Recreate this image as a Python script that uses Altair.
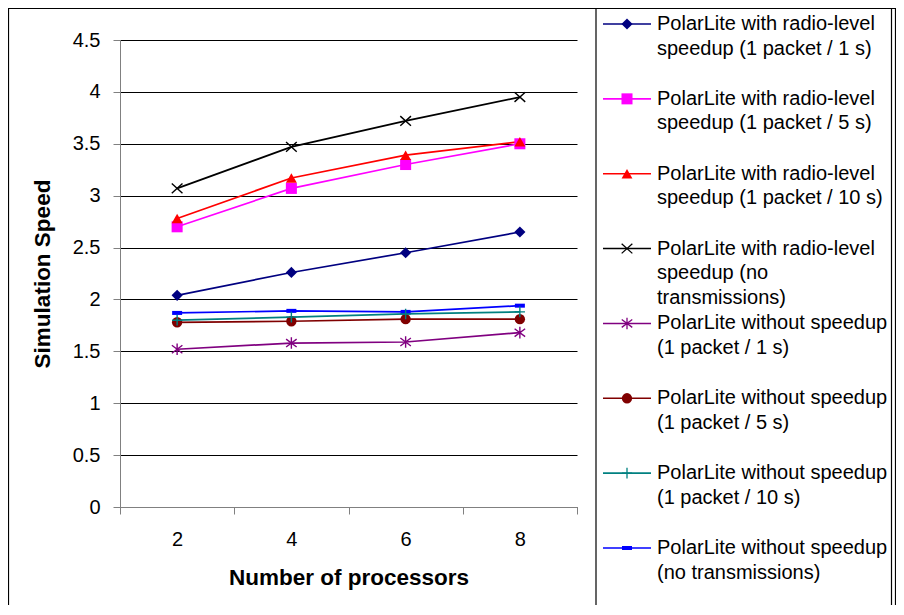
import altair as alt
import pandas as pd

# ---------------- data ----------------
processors = ["2", "4", "6", "8"]
y_ticks = [0, 0.5, 1, 1.5, 2, 2.5, 3, 3.5, 4, 4.5]

series_names = [
    "PolarLite with radio-level\nspeedup (1 packet / 1 s)",
    "PolarLite with radio-level\nspeedup (1 packet / 5 s)",
    "PolarLite with radio-level\nspeedup (1 packet / 10 s)",
    "PolarLite with radio-level\nspeedup (no\ntransmissions)",
    "PolarLite without speedup\n(1 packet / 1 s)",
    "PolarLite without speedup\n(1 packet / 5 s)",
    "PolarLite without speedup\n(1 packet / 10 s)",
    "PolarLite without speedup\n(no transmissions)",
]
series_colors = ["#000080", "#FF00FF", "#FF0000", "#000000",
                 "#800080", "#800000", "#008080", "#0000FF"]

radio_1s = [2.04, 2.26, 2.45, 2.65]
radio_5s = [2.70, 3.07, 3.30, 3.50]
radio_10s = [2.78, 3.17, 3.39, 3.52]
radio_none = [3.07, 3.47, 3.72, 3.95]
plain_1s = [1.52, 1.58, 1.59, 1.68]
plain_5s = [1.78, 1.79, 1.81, 1.81]
plain_10s = [1.80, 1.83, 1.86, 1.88]
plain_none = [1.87, 1.89, 1.88, 1.94]
all_series = [radio_1s, radio_5s, radio_10s, radio_none,
              plain_1s, plain_5s, plain_10s, plain_none]

# marker shapes (Vega symbol names / unit-square paths)
series_shapes = [
    "diamond",
    "square",
    "triangle-up",
    "M-1,-0.9L1,0.9M-1,0.9L1,-0.9",
    "M-1,-0.75L1,0.75M-1,0.75L1,-0.75M0,-1.1L0,1.1",
    "circle",
    "M-1,0L1,0M0,-1.05L0,1.05",
    "M-1,-0.4L1,-0.4L1,0.4L-1,0.4Z",
]
series_sizes = [125, 100, 160, 150, 150, 120, 150, 70]
filled_flags = [True, True, True, False, False, True, False, True]

rows = []
for name, vals in zip(series_names, all_series):
    for p, v in zip(processors, vals):
        rows.append({"series": name, "proc": p, "speed": v})
df = pd.DataFrame(rows)

filled_names = [n for n, f in zip(series_names, filled_flags) if f]
stroked_names = [n for n, f in zip(series_names, filled_flags) if not f]

legend_df = pd.DataFrame({"series": series_names, "idx": list(range(len(series_names)))})
dummy = pd.DataFrame({"a": [0]})

FONT = "Liberation Sans, Arial, Helvetica, sans-serif"

color_scale = alt.Scale(domain=series_names, range=series_colors)
shape_scale = alt.Scale(domain=series_names, range=series_shapes)
size_scale = alt.Scale(domain=series_names, range=series_sizes)

x_enc = alt.X(
    "proc:O",
    sort=processors,
    bandPosition=0.5,
    scale=alt.Scale(type="band", paddingInner=0, paddingOuter=0),
    axis=alt.Axis(
        title="Number of processors",
        labelAngle=0,
        tickBand="extent",
        labelPadding=15,
        titlePadding=17,
    ),
)
y_scale = alt.Scale(domain=[0, 4.5], nice=False, zero=True)
y_enc = alt.Y(
    "speed:Q",
    scale=y_scale,
    axis=alt.Axis(
        title="Simulation Speed",
        values=y_ticks,
        format=".1~f",
        grid=True,
        labelPadding=13,
        titlePadding=18,
    ),
)

# ---------------- frames ----------------
frame = alt.Chart(dummy).mark_rect(fill="transparent", stroke="#000000", strokeWidth=1.2).encode(
    x=alt.value(-111.5), x2=alt.value(775.5), y=alt.value(-31.5), y2=alt.value(800)
)
legend_box = alt.Chart(dummy).mark_rect(fill="transparent", stroke="#000000", strokeWidth=1.2).encode(
    x=alt.value(476), x2=alt.value(771.5), y=alt.value(-31.5), y2=alt.value(800)
)

# ---------------- main plot ----------------
lines = alt.Chart(df).mark_line(strokeWidth=1.7).encode(
    x=x_enc,
    y=y_enc,
    color=alt.Color("series:N", scale=color_scale, legend=None),
    detail="series:N",
)

pts_filled = alt.Chart(df).transform_filter(
    alt.FieldOneOfPredicate(field="series", oneOf=filled_names)
).mark_point(filled=True, opacity=1).encode(
    x=x_enc,
    y=y_enc,
    color=alt.Color("series:N", scale=color_scale, legend=None),
    shape=alt.Shape("series:N", scale=shape_scale, legend=None),
    size=alt.Size("series:N", scale=size_scale, legend=None),
)
pts_stroked = alt.Chart(df).transform_filter(
    alt.FieldOneOfPredicate(field="series", oneOf=stroked_names)
).mark_point(filled=False, opacity=1, strokeWidth=1.4).encode(
    x=x_enc,
    y=y_enc,
    color=alt.Color("series:N", scale=color_scale, legend=None),
    shape=alt.Shape("series:N", scale=shape_scale, legend=None),
    size=alt.Size("series:N", scale=size_scale, legend=None),
)
main = alt.layer(lines, pts_filled, pts_stroked)

# ---------------- legend (drawn as a layer) ----------------
leg_y = alt.Y("idx:Q", scale=alt.Scale(domain=[0, 7], range=[-16, 508], nice=False, zero=False), axis=None)

leg_rule = alt.Chart(legend_df).mark_rule(strokeWidth=1.6).encode(
    x=alt.value(483), x2=alt.value(531), y=leg_y,
    color=alt.Color("series:N", scale=color_scale, legend=None),
)
leg_pf = alt.Chart(legend_df).transform_filter(
    alt.FieldOneOfPredicate(field="series", oneOf=filled_names)
).mark_point(filled=True, opacity=1).encode(
    x=alt.value(507), y=leg_y,
    color=alt.Color("series:N", scale=color_scale, legend=None),
    shape=alt.Shape("series:N", scale=shape_scale, legend=None),
    size=alt.Size("series:N", scale=size_scale, legend=None),
)
leg_ps = alt.Chart(legend_df).transform_filter(
    alt.FieldOneOfPredicate(field="series", oneOf=stroked_names)
).mark_point(filled=False, opacity=1, strokeWidth=1.3).encode(
    x=alt.value(507), y=leg_y,
    color=alt.Color("series:N", scale=color_scale, legend=None),
    shape=alt.Shape("series:N", scale=shape_scale, legend=None),
    size=alt.Size("series:N", scale=size_scale, legend=None),
)
leg_text = alt.Chart(legend_df).mark_text(
    align="left", baseline="top", dy=-10, lineBreak="\n", lineHeight=24.5,
    fontSize=20, font=FONT, color="#000000",
).encode(x=alt.value(537), y=leg_y, text="series:N")

legend = alt.layer(leg_rule, leg_pf, leg_ps, leg_text)

chart = alt.layer(frame, legend_box, main, legend).resolve_scale(
    y="independent"
).properties(
    width=457,
    height=467,
    autosize=alt.AutoSizeParams(type="none"),
    padding={"left": 112, "top": 32, "right": 319, "bottom": 98},
    background="white",
).configure_view(
    stroke=None
).configure_axis(
    domainColor="#808080",
    domainWidth=1,
    tickColor="#808080",
    tickSize=7,
    gridColor="#000000",
    gridWidth=1,
    labelFont=FONT,
    labelFontSize=20,
    labelColor="#000000",
    titleFont=FONT,
    titleFontSize=22.5,
    titleFontWeight="bold",
    titleColor="#000000",
)

chart.save("out.html", embed_options={"renderer": "svg", "actions": False})
